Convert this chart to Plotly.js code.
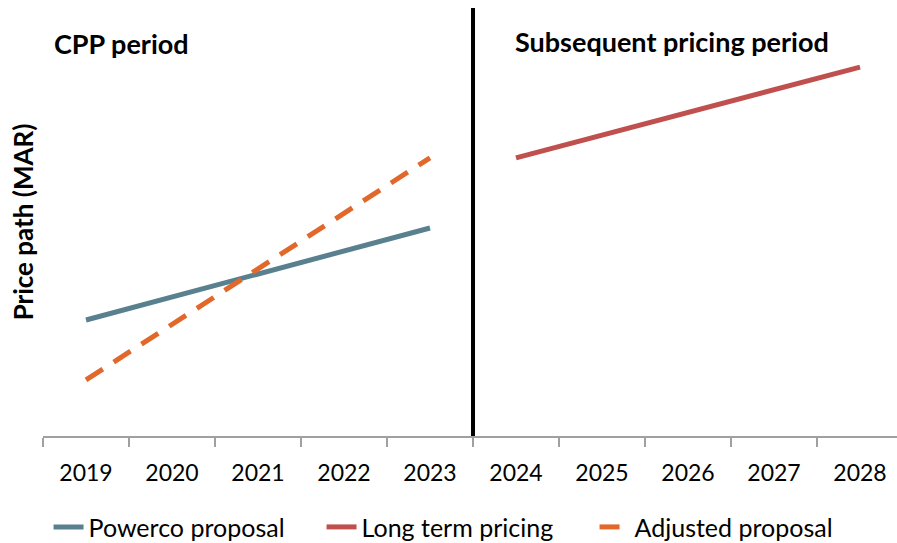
<!DOCTYPE html>
<html>
<head>
<meta charset="utf-8">
<script src="https://cdn.plot.ly/plotly-3.0.1.min.js"></script>
<style>html,body{margin:0;padding:0;background:#fff;}#chart{width:897px;height:543px;}</style>
</head>
<body>
<div id="chart"></div>
<script>
const years = ['2019','2020','2021','2022','2023','2024','2025','2026','2027','2028'];
const cppYears = ['2019','2020','2021','2022','2023'];
const laterYears = ['2024','2025','2026','2027','2028'];
const powercoProposal = [27.1, 32.5, 37.9, 43.2, 48.6];
const adjustedProposal = [13.1, 26.1, 39.0, 52.0, 65.0];
const longTermPricing = [65.0, 70.3, 75.6, 80.9, 86.2];

const FONT = 'Lato, "Open Sans", sans-serif';

const traces = [
  {x: cppYears, y: powercoProposal, name: 'Powerco proposal', type: 'scatter', mode: 'lines',
   line: {color: '#58808F', width: 5}},
  {x: laterYears, y: longTermPricing, name: 'Long term pricing', type: 'scatter', mode: 'lines',
   line: {color: '#C0504D', width: 5}},
  {x: cppYears, y: adjustedProposal, name: 'Adjusted proposal', type: 'scatter', mode: 'lines',
   line: {color: '#E2672A', width: 5, dash: '20px,13px'}}
];

const layout = {
  width: 897, height: 543,
  margin: {l: 43, r: 0, t: 8, b: 107, autoexpand: false},
  paper_bgcolor: '#fff', plot_bgcolor: '#fff',
  font: {family: FONT, color: '#000'},
  showlegend: true,
  legend: {orientation: 'h', x: 0.486, xanchor: 'center', y: -0.213, yanchor: 'middle',
           font: {size: 25, family: FONT}, entrywidth: 228, entrywidthmode: 'pixels', tracegroupgap: 0},
  xaxis: {type: 'category', categoryorder: 'array', categoryarray: years,
          range: [-0.5, 9.43], tickson: 'boundaries', ticks: 'outside', ticklen: 9,
          tickcolor: '#A0A0A0', tickwidth: 1.5, showline: true, linecolor: '#A0A0A0', linewidth: 1.5,
          showgrid: false, zeroline: false, tickfont: {size: 23, family: FONT}, ticklabelstandoff: 16,
          fixedrange: true},
  yaxis: {range: [0, 100], showticklabels: false, showgrid: false, zeroline: false, showline: false,
          ticks: '', title: {text: '<b>Price path (MAR)</b>', font: {size: 26, family: FONT}, standoff: 0},
          fixedrange: true},
  shapes: [
    {type: 'line', xref: 'x', yref: 'paper', x0: 4.5, x1: 4.5, y0: 0, y1: 1,
     line: {color: '#000', width: 4}}
  ],
  annotations: [
    {text: '<b>CPP period</b>', xref: 'paper', yref: 'paper', x: 0.0105, y: 0.916,
     xanchor: 'left', yanchor: 'middle', showarrow: false, font: {size: 27, family: FONT}},
    {text: '<b>Subsequent pricing period</b>', xref: 'paper', yref: 'paper', x: 0.550, y: 0.921,
     xanchor: 'left', yanchor: 'middle', showarrow: false, font: {size: 27, family: FONT}}
  ]
};

Plotly.newPlot('chart', traces, layout, {displayModeBar: false, staticPlot: true});
</script>
</body>
</html>
